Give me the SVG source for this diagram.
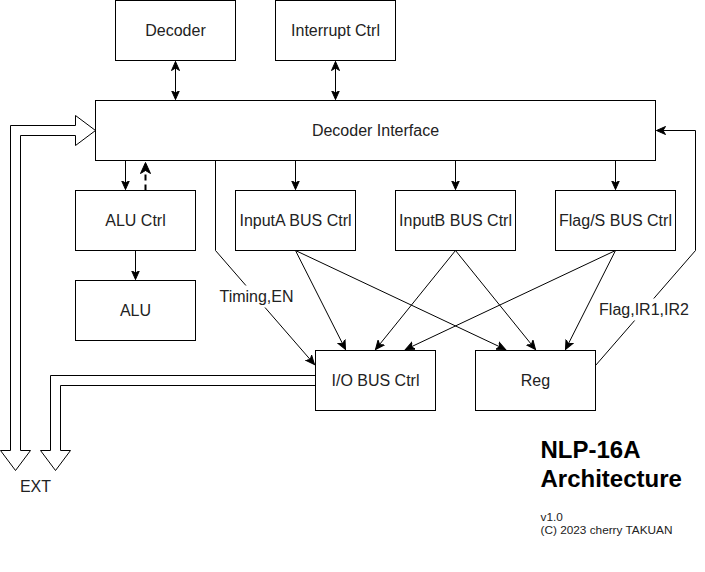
<svg xmlns="http://www.w3.org/2000/svg" width="705" height="572" viewBox="0 0 705 572">
<style>
.box{fill:#fff;stroke:#000;stroke-width:1}
.lbl{font-family:"Liberation Sans",Arial,sans-serif;font-size:16px;fill:#222;text-anchor:middle}
.ln{fill:none;stroke:#000;stroke-width:1}
.flex{fill:#fff;stroke:#000;stroke-width:1;stroke-linejoin:miter}
</style>
<defs>
<marker id="ah" markerUnits="userSpaceOnUse" markerWidth="10" markerHeight="10" viewBox="0 0 10 10" refX="9" refY="5" orient="auto-start-reverse">
<path d="M0,1 L9,5 L0,9 L2.5,5 Z" fill="#000" stroke="#000" stroke-width="1"/>
</marker>
<marker id="ahb" markerUnits="userSpaceOnUse" markerWidth="12" markerHeight="12" viewBox="0 0 12 12" refX="11" refY="6" orient="auto">
<path d="M0,1 L11,6 L0,11 L3,6 Z" fill="#000" stroke="#000" stroke-width="1"/>
</marker>
</defs>
<rect width="705" height="572" fill="#fff"/>
<g transform="translate(0.5,0.5)">
<g id="connectors">
<path class="flex" d="M10,450 L10,125 L75,125 L75,115 L95,130 L75,145 L75,135 L20,135 L20,450 L30,450 L15,470 L0,450 Z"/>
<path class="flex" d="M315,375 L50,375 L50,450 L40,450 L55,470 L70,450 L60,450 L60,385 L315,385 Z"/>
<line class="ln" x1="175" y1="61" x2="175" y2="99" marker-start="url(#ah)" marker-end="url(#ah)"/>
<line class="ln" x1="335" y1="61" x2="335" y2="99" marker-start="url(#ah)" marker-end="url(#ah)"/>
<line class="ln" x1="125" y1="160" x2="125" y2="189" marker-end="url(#ah)"/>
<line x1="145" y1="190" x2="145" y2="162" stroke="#000" stroke-width="2" stroke-dasharray="6 4" marker-end="url(#ahb)"/>
<line class="ln" x1="135" y1="250" x2="135" y2="279" marker-end="url(#ah)"/>
<line class="ln" x1="295" y1="160" x2="295" y2="189" marker-end="url(#ah)"/>
<line class="ln" x1="455" y1="160" x2="455" y2="189" marker-end="url(#ah)"/>
<line class="ln" x1="615" y1="160" x2="615" y2="189" marker-end="url(#ah)"/>
<path class="ln" d="M215,160 L215,250 L314,364" marker-end="url(#ah)"/>
<line class="ln" x1="295" y1="250" x2="345" y2="349" marker-end="url(#ah)"/>
<line class="ln" x1="295" y1="250" x2="505" y2="349" marker-end="url(#ah)"/>
<line class="ln" x1="455" y1="250" x2="375" y2="349" marker-end="url(#ah)"/>
<line class="ln" x1="455" y1="250" x2="535" y2="349" marker-end="url(#ah)"/>
<line class="ln" x1="615" y1="250" x2="405" y2="349" marker-end="url(#ah)"/>
<line class="ln" x1="615" y1="250" x2="565" y2="349" marker-end="url(#ah)"/>
<path class="ln" d="M595,365 L695,250 L695,130 L656,130" marker-end="url(#ah)"/>
<rect x="219" y="285" width="74" height="22" fill="#fff"/>
<text class="lbl" x="256" y="301">Timing,EN</text>
<rect x="598" y="298" width="92" height="22" fill="#fff"/>
<text class="lbl" x="643.5" y="314">Flag,IR1,IR2</text>
</g>
<g id="decoder"><rect class="box" x="115" y="0" width="120" height="60"/><text class="lbl" x="175" y="35">Decoder</text></g>
<g id="interrupt"><rect class="box" x="275" y="0" width="120" height="60"/><text class="lbl" x="335" y="35">Interrupt Ctrl</text></g>
<g id="decoder-interface"><rect class="box" x="95" y="100" width="560" height="60"/><text class="lbl" x="375" y="135">Decoder Interface</text></g>
<g id="alu-ctrl"><rect class="box" x="75" y="190" width="120" height="60"/><text class="lbl" x="135" y="225">ALU Ctrl</text></g>
<g id="alu"><rect class="box" x="75" y="280" width="120" height="60"/><text class="lbl" x="135" y="315">ALU</text></g>
<g id="inputa"><rect class="box" x="235" y="190" width="120" height="60"/><text class="lbl" x="295" y="225">InputA BUS Ctrl</text></g>
<g id="inputb"><rect class="box" x="395" y="190" width="120" height="60"/><text class="lbl" x="455" y="225">InputB BUS Ctrl</text></g>
<g id="flags"><rect class="box" x="555" y="190" width="120" height="60"/><text class="lbl" x="615" y="225">Flag/S BUS Ctrl</text></g>
<g id="io"><rect class="box" x="315" y="350" width="120" height="60"/><text class="lbl" x="375" y="385">I/O BUS Ctrl</text></g>
<g id="reg"><rect class="box" x="475" y="350" width="120" height="60"/><text class="lbl" x="535" y="385">Reg</text></g>
<g id="ext"><text class="lbl" x="35" y="491">EXT</text></g>
<g id="title">
<text x="540" y="457" font-family="'Liberation Sans',Arial,sans-serif" font-size="24" font-weight="bold" fill="#000">NLP-16A</text>
<text x="540" y="486" font-family="'Liberation Sans',Arial,sans-serif" font-size="24" font-weight="bold" fill="#000">Architecture</text>
<text x="540" y="520" font-family="'Liberation Sans',Arial,sans-serif" font-size="11.8" fill="#222">v1.0</text>
<text x="540" y="533" font-family="'Liberation Sans',Arial,sans-serif" font-size="11.8" fill="#222">(C) 2023 cherry TAKUAN</text>
</g>
</g>
</svg>
